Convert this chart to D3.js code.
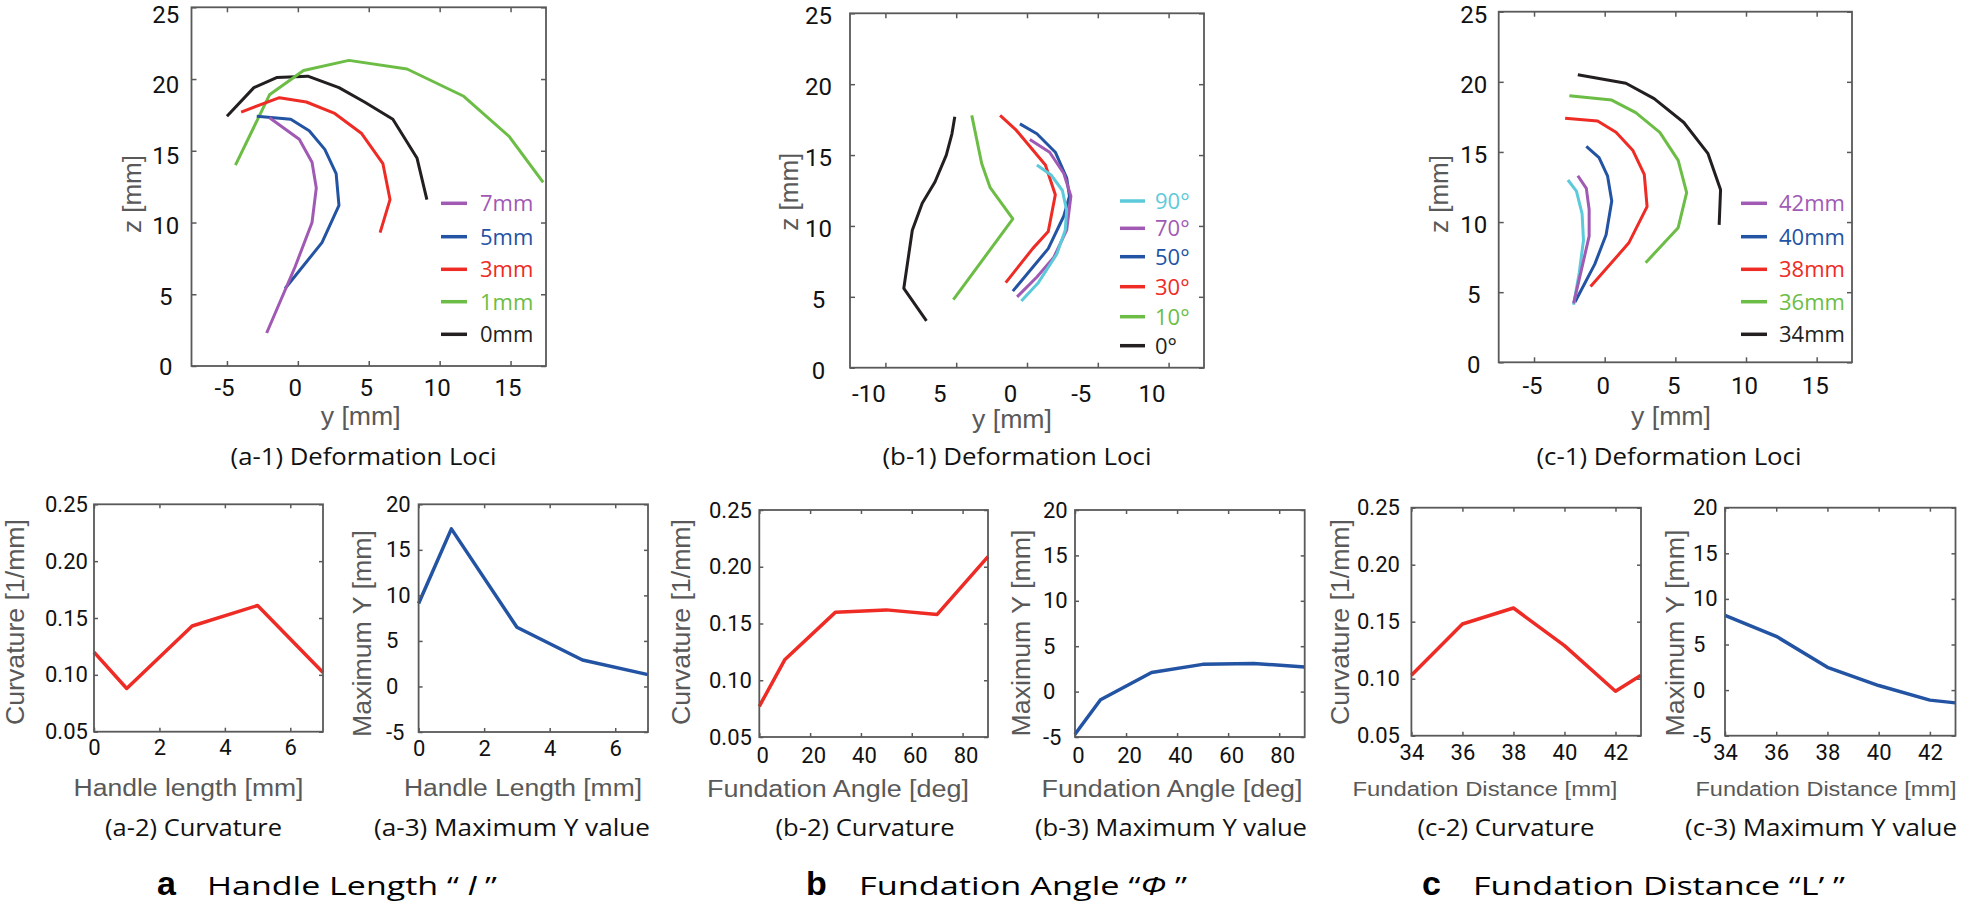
<!DOCTYPE html>
<html><head><meta charset="utf-8">
<script src="https://cdn.jsdelivr.net/npm/d3@7"></script>
<style>body{margin:0;background:#fff;overflow:hidden}</style>
</head><body>
<script>
// ---------- DATA ----------
// (a-1) Deformation loci, pairs [y mm, z mm]
const a1Labels = ["7mm","5mm","3mm","1mm","0mm"];
const a1_0mm = [[-5.0,17.4],[-3.1,19.4],[-1.5,20.1],[0.7,20.2],[2.9,19.4],[4.7,18.4],[6.7,17.2],[8.4,14.5],[9.1,11.6]];
const a1_1mm = [[-4.4,14.0],[-2.0,18.9],[0.4,20.6],[3.6,21.3],[7.7,20.7],[11.7,18.8],[14.9,16.0],[17.3,12.8]];
const a1_3mm = [[-4.0,17.7],[-1.3,18.7],[0.6,18.4],[2.6,17.6],[4.5,16.2],[6.0,14.1],[6.5,11.6],[5.8,9.3]];
const a1_5mm = [[-2.9,17.4],[-0.5,17.2],[0.8,16.4],[1.9,15.1],[2.7,13.4],[2.9,11.2],[1.7,8.6],[-0.9,5.4]];
const a1_7mm = [[-2.0,17.3],[0.1,15.8],[1.0,14.2],[1.3,12.4],[1.0,10.0],[-0.2,6.9],[-2.2,2.3]];

// (b-1) Deformation loci (reversed y axis)
const b1Labels = ["90°","70°","50°","30°","10°","0°"];
const b1_0  = [[5.1,17.7],[5.3,16.5],[5.7,15.0],[6.5,13.1],[7.4,11.6],[8.1,9.7],[8.7,5.6],[7.1,3.3]];
const b1_10 = [[3.9,17.8],[3.2,14.4],[2.6,12.7],[1.0,10.5],[5.2,4.8]];
const b1_30 = [[1.9,17.8],[0.8,16.8],[-1.3,14.3],[-2.0,12.2],[-1.5,9.6],[-0.4,8.4],[1.5,6.0]];
const b1_50 = [[0.5,17.2],[-0.7,16.5],[-2.0,15.2],[-2.8,13.4],[-3.0,12.1],[-2.6,10.7],[-1.5,8.4],[1.0,5.4]];
const b1_70 = [[-0.2,16.1],[-1.6,15.2],[-2.6,13.7],[-3.1,12.1],[-2.8,9.7],[-1.9,7.8],[-0.7,6.4],[0.7,5.0]];
const b1_90 = [[-0.7,14.3],[-1.7,13.6],[-2.5,12.5],[-2.8,11.1],[-2.7,9.7],[-2.1,8.0],[-0.8,6.0],[0.4,4.7]];
const b1TickVals = [10,5,0,-5,-10];
const b1TickText = ["-10","5","0","-5","10"];

// (c-1) Deformation loci
const c1Labels = ["42mm","40mm","38mm","36mm","34mm"];
const c1_34 = [[-1.9,20.5],[1.5,19.9],[3.5,18.8],[5.6,17.1],[7.3,14.9],[8.2,12.3],[8.1,9.8]];
const c1_36 = [[-2.5,19.0],[0.5,18.7],[2.2,17.8],[3.9,16.4],[5.2,14.4],[5.8,12.1],[5.2,9.6],[2.9,7.1]];
const c1_38 = [[-2.8,17.4],[-0.5,17.2],[0.8,16.4],[2.0,15.1],[2.8,13.4],[3.0,11.1],[1.7,8.5],[-1.0,5.4]];
const c1_40 = [[-1.3,15.4],[-0.4,14.6],[0.2,13.3],[0.5,11.5],[0.1,9.1],[-0.7,7.0],[-2.1,4.3]];
const c1_42 = [[-1.9,13.3],[-1.3,12.4],[-1.1,10.9],[-1.1,9.0],[-1.6,6.8],[-2.2,4.2]];
const c1_cyan = [[-2.6,13.0],[-2.0,12.2],[-1.6,10.6],[-1.5,8.7],[-1.8,6.4],[-2.2,4.1]];

// bottom row
const aLength = [0,1,3,5,7];
const aCurv   = [0.120,0.088,0.143,0.161,0.102];
const aMaxY   = [9.1,17.3,6.5,2.9,1.3];
const bAngle  = [0,10,30,50,70,90];
const bCurv   = [0.077,0.118,0.160,0.162,0.158,0.209];
const bMaxY   = [-4.7,-0.9,2.1,3.0,3.1,2.7];
const cDist   = [34,36,38,40,42,43];
const cCurv   = [0.103,0.148,0.162,0.129,0.089,0.103];
const cMaxY   = [8.2,5.9,2.5,0.5,-1.1,-1.4];

const locTicksY = [0,5,10,15,20,25];
const locTicksX = [-5,0,5,10,15];
const curvTicks = [0.05,0.10,0.15,0.20,0.25];
const maxYTicks = [-5,0,5,10,15,20];
const aTicks = [0,2,4,6];
const bTicks = [0,20,40,60,80];
const cTicks = [34,36,38,40,42];

// ---------- STYLE ----------
const C = {red:"#ee2b24", blue:"#2353a3", green:"#6cbd45", purple:"#a05ab4", cyan:"#5ccadb", black:"#231f20"};
const GRAY = "#595959";
const FT = "'Open Sans', 'Noto Sans', sans-serif";
const FN = "Roboto, 'Open Sans', sans-serif";
const FL = "'Liberation Sans', Arial, sans-serif";

const svg = d3.select("body").append("svg").attr("width",1961).attr("height",912);

function panel(p){
  const x = d3.scaleLinear().domain(p.xd).range([p.l,p.r]);
  const y = d3.scaleLinear().domain(p.yd).range([p.b,p.t]);
  const g = svg.append("g");
  const line = d3.line().x(d=>x(d[0])).y(d=>y(d[1]));
  p.series.forEach(s=>{
    g.append("path").attr("d",line(s.data)).attr("fill","none")
      .attr("stroke",s.color).attr("stroke-width",p.lw)
      .attr("stroke-linejoin","round").attr("stroke-linecap","butt");
  });
  const style = sel => { sel.select(".domain").remove();
    sel.selectAll(".tick line").attr("stroke",GRAY).attr("stroke-width",1.5);
    sel.attr("font-family",FN).attr("font-size",p.fs);
    sel.selectAll("text").attr("fill","#111"); };
  const xb = g.append("g").attr("transform",`translate(0,${p.b})`)
    .call(d3.axisBottom(x).tickValues(p.xt).tickSizeInner(-p.tl).tickSizeOuter(0).tickPadding(p.xpad).tickFormat(p.xf));
  style(xb); xb.selectAll("text").attr("dx",p.xdx||0);
  const xt = g.append("g").attr("transform",`translate(0,${p.t})`)
    .call(d3.axisTop(x).tickValues(p.xt).tickSizeInner(-p.tl).tickSizeOuter(0).tickFormat(""));
  style(xt);
  const yl = g.append("g").attr("transform",`translate(${p.l},0)`)
    .call(d3.axisLeft(y).tickValues(p.yt).tickSizeInner(-p.tl).tickSizeOuter(0).tickFormat(p.yf));
  style(yl);
  yl.selectAll("text").attr("x",p.ytx - p.l).attr("text-anchor",p.yanchor)
    .attr("transform",d=>`translate(0,${p.ydy ? p.ydy(d) : 0})`);
  const yr = g.append("g").attr("transform",`translate(${p.r},0)`)
    .call(d3.axisRight(y).tickValues(p.yt).tickSizeInner(-p.tl).tickSizeOuter(0).tickFormat(""));
  style(yr);
  g.append("rect").attr("x",p.l).attr("y",p.t).attr("width",p.r-p.l).attr("height",p.b-p.t)
    .attr("fill","none").attr("stroke",GRAY).attr("stroke-width",1.8);
  return {x,y};
}

function label(x,y,str,o){
  const t = svg.append("text").attr("x",x).attr("y",y).text(str)
    .attr("font-family",o.ff).attr("font-size",o.fs).attr("fill",o.fill||"#111")
    .attr("text-anchor",o.anchor||"middle");
  if(o.len) t.attr("textLength",o.len).attr("lengthAdjust","spacingAndGlyphs");
  if(o.rot) t.attr("transform",`rotate(-90,${x},${y})`).attr("dominant-baseline","central");
  return t;
}

function legend(items, colors, lx1, lx2, tx, rows){
  items.forEach((lab,i)=>{
    svg.append("line").attr("x1",lx1).attr("x2",lx2).attr("y1",rows[i]).attr("y2",rows[i])
      .attr("stroke",colors[i]).attr("stroke-width",3.5);
    svg.append("text").attr("x",tx).attr("y",rows[i]).attr("dy","0.36em").text(lab)
      .attr("font-family",FT).attr("font-size",22).attr("fill",colors[i]);
  });
}

const fmtInt = d => String(d);
const fmt2 = d => d.toFixed(2);

// ---------- TOP ROW ----------
panel({l:191.5,r:546,t:7.3,b:366, xd:[-7.5,17.5], yd:[0,25], xt:locTicksX, yt:locTicksY,
  xf:fmtInt, yf:fmtInt, ytx:165.8, yanchor:"middle", ydy:v=>1+v*0.26, xpad:13, xdx:-3, tl:5, lw:3, fs:24,
  series:[{data:a1_0mm,color:C.black},{data:a1_1mm,color:C.green},{data:a1_3mm,color:C.red},
          {data:a1_5mm,color:C.blue},{data:a1_7mm,color:C.purple}]});
panel({l:850,r:1204,t:13.3,b:367.7, xd:[12.5,-12.5], yd:[0,25], xt:b1TickVals, yt:locTicksY,
  xf:(d,i)=>b1TickText[i], yf:fmtInt, ytx:818.4, yanchor:"middle", ydy:()=>3, xpad:17, xdx:-17, tl:5, lw:3, fs:24,
  series:[{data:b1_0,color:C.black},{data:b1_10,color:C.green},{data:b1_30,color:C.red},
          {data:b1_50,color:C.blue},{data:b1_70,color:C.purple},{data:b1_90,color:C.cyan}]});
panel({l:1498.7,r:1852,t:11.7,b:362.3, xd:[-7.5,17.5], yd:[0,25], xt:locTicksX, yt:locTicksY,
  xf:fmtInt, yf:fmtInt, ytx:1473.8, yanchor:"middle", ydy:()=>3, xpad:15, xdx:-2, tl:5, lw:3, fs:24,
  series:[{data:c1_34,color:C.black},{data:c1_36,color:C.green},{data:c1_38,color:C.red},
          {data:c1_40,color:C.blue},{data:c1_cyan,color:C.cyan},{data:c1_42,color:C.purple}]});

legend(a1Labels,[C.purple,C.blue,C.red,C.green,C.black],441,467,480,[203.3,236.7,269.3,301.7,334.3]);
legend(b1Labels,[C.cyan,C.purple,C.blue,C.red,C.green,C.black],1120,1145,1155,[201,228.3,256.7,286.7,316.7,345.7]);
legend(c1Labels,[C.purple,C.blue,C.red,C.green,C.black],1741,1767,1779,[203.3,236.7,269.3,301.7,334.3]);

[[131.5,194],[789,191.7],[1439,194]].forEach(([cx,cy])=>label(cx,cy,"z [mm]",{ff:FL,fs:25,fill:GRAY,len:78,rot:true}));
[[360.7,425],[1012,428],[1671,425]].forEach(([cx,by])=>label(cx,by,"y [mm]",{ff:FL,fs:25,fill:GRAY,len:80}));
label(363.6,465,"(a-1) Deformation Loci",{ff:FT,fs:23,len:266});
label(1017,465,"(b-1) Deformation Loci",{ff:FT,fs:23,len:269});
label(1669,465,"(c-1) Deformation Loci",{ff:FT,fs:23,len:265});

// ---------- BOTTOM ROW ----------
const zip = (a,b)=>a.map((v,i)=>[v,b[i]]);
const common = {tl:4, lw:3.5, fs:22, yanchor:"start", xf:fmtInt};
panel({...common, l:94,r:323,t:504.3,b:731.7, xd:[0,7], yd:[0.05,0.25], xt:aTicks, yt:curvTicks, yf:fmt2, ytx:45, xpad:8,
  series:[{data:zip(aLength,aCurv),color:C.red}]});
panel({...common, l:418.6,r:648,t:504.3,b:732, xd:[0,7], yd:[-5,20], xt:aTicks, yt:maxYTicks, yf:fmtInt, ytx:386, xpad:8,
  series:[{data:zip(aLength,aMaxY),color:C.blue}]});
panel({...common, l:759.3,r:988,t:510,b:737, xd:[0,90], yd:[0.05,0.25], xt:bTicks, yt:curvTicks, yf:fmt2, ytx:709, xpad:10, xdx:3,
  series:[{data:zip(bAngle,bCurv),color:C.red}]});
panel({...common, l:1075,r:1304.7,t:510,b:737, xd:[0,90], yd:[-5,20], xt:bTicks, yt:maxYTicks, yf:fmtInt, ytx:1043, xpad:10, xdx:3,
  series:[{data:zip(bAngle,bMaxY),color:C.blue}]});
panel({...common, l:1411.4,r:1641,t:507.7,b:735.7, xd:[34,43], yd:[0.05,0.25], xt:cTicks, yt:curvTicks, yf:fmt2, ytx:1357, xpad:9,
  series:[{data:zip(cDist,cCurv),color:C.red}]});
panel({...common, l:1725,r:1955.5,t:507.7,b:735.7, xd:[34,43], yd:[-5,20], xt:cTicks, yt:maxYTicks, yf:fmtInt, ytx:1693, xpad:9,
  series:[{data:zip(cDist,cMaxY),color:C.blue}]});

[[15,622],[681,622],[1340,622]].forEach(([cx,cy])=>label(cx,cy,"Curvature [1/mm]",{ff:FL,fs:25,fill:GRAY,len:206,rot:true}));
[[362,633.5],[1021,633],[1675,633]].forEach(([cx,cy])=>label(cx,cy,"Maximum Y [mm]",{ff:FL,fs:25,fill:GRAY,len:207,rot:true}));

label(188.5,796,"Handle length [mm]",{ff:FL,fs:23,fill:GRAY,len:230});
label(523,796,"Handle Length [mm]",{ff:FL,fs:23,fill:GRAY,len:238});
label(838,797,"Fundation Angle [deg]",{ff:FL,fs:23,fill:GRAY,len:262});
label(1172,797,"Fundation Angle [deg]",{ff:FL,fs:23,fill:GRAY,len:261});
label(1485,796,"Fundation Distance [mm]",{ff:FL,fs:20,fill:GRAY,len:265});
label(1826,796,"Fundation Distance [mm]",{ff:FL,fs:20,fill:GRAY,len:261});

label(193.6,836,"(a-2) Curvature",{ff:FT,fs:23,len:177});
label(512,836,"(a-3) Maximum Y value",{ff:FT,fs:23,len:276});
label(865,836,"(b-2) Curvature",{ff:FT,fs:23,len:179});
label(1171,836,"(b-3) Maximum Y value",{ff:FT,fs:23,len:272});
label(1506,836,"(c-2) Curvature",{ff:FT,fs:23,len:177});
label(1821,836,"(c-3) Maximum Y value",{ff:FT,fs:23,len:272});

// ---------- CAPTIONS ----------
function caption(bx, letter, tx, len, parts){
  svg.append("text").attr("x",bx).attr("y",895).text(letter)
    .attr("font-family",FL).attr("font-weight","bold").attr("font-size",34).attr("fill","#000");
  const t = svg.append("text").attr("x",tx).attr("y",895)
    .attr("font-family",FT).attr("font-size",25).attr("fill","#000")
    .attr("textLength",len).attr("lengthAdjust","spacingAndGlyphs");
  parts.forEach(([s,it])=>t.append("tspan").text(s).attr("font-style",it?"italic":"normal"));
}
caption(157,"a",207,290,[["Handle Length \u201C ",false],["l",true],[" \u201D",false]]);
caption(806,"b",859,328,[["Fundation Angle \u201C",false],["\u03A6",true],[" \u201D",false]]);
caption(1422,"c",1473,372,[["Fundation Distance \u201CL\u2019 \u201D",false]]);
</script>
</body></html>
